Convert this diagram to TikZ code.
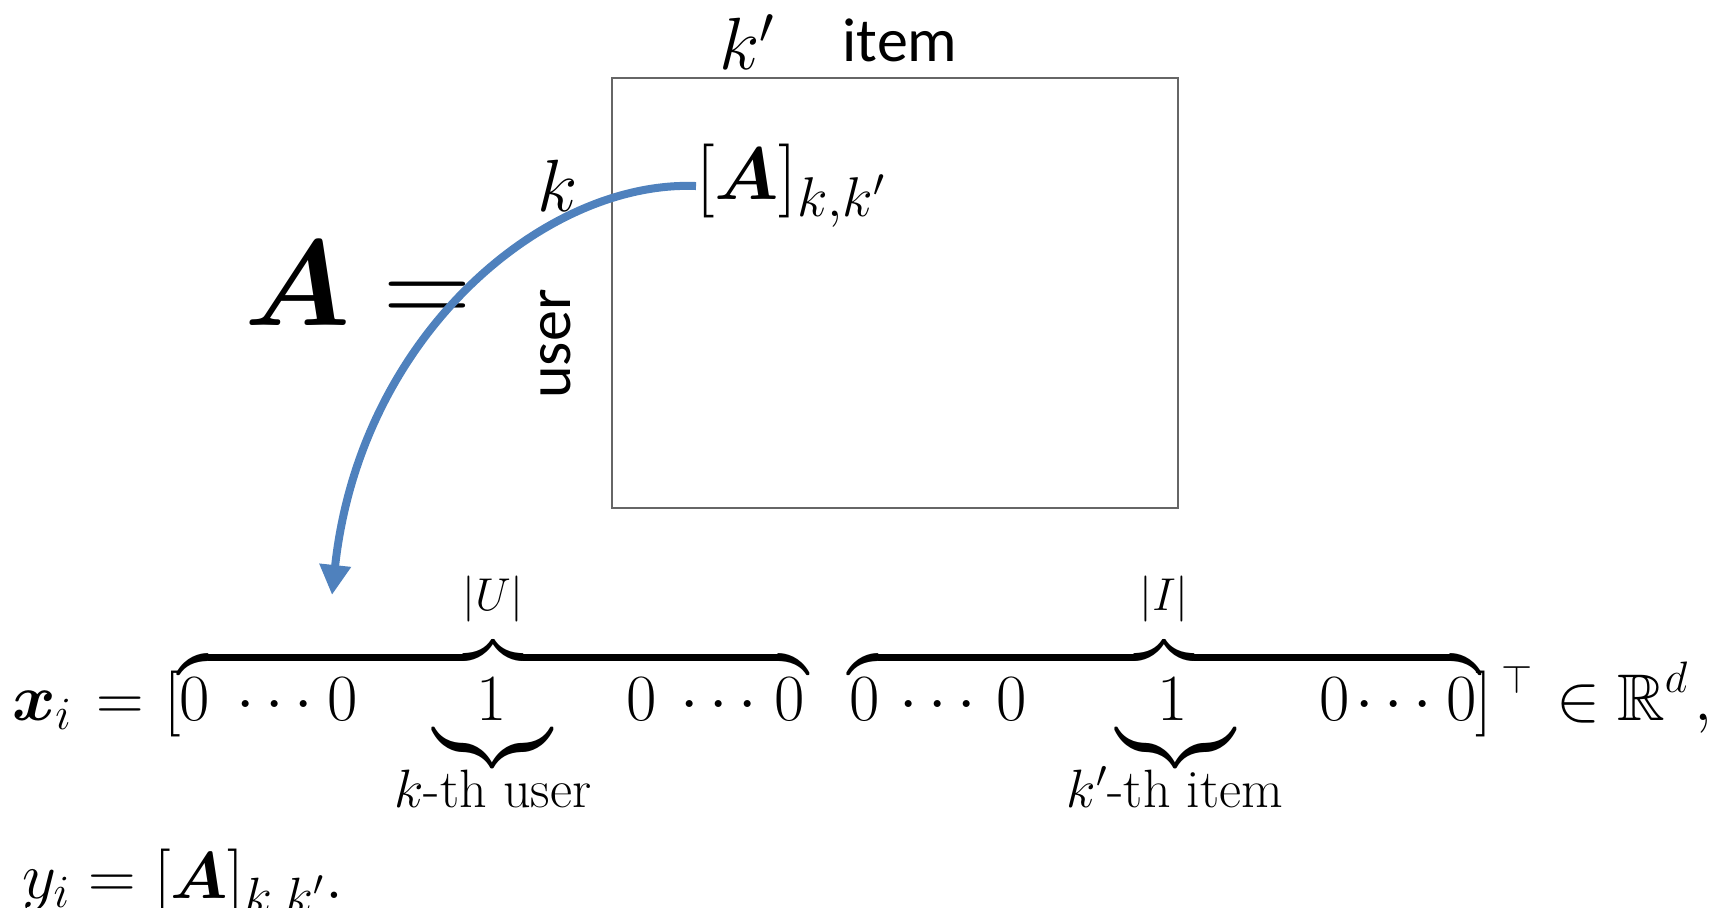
\RequirePackage{fix-cm}
\documentclass[tikz,border=0pt]{standalone}
\usepackage{amsmath,amssymb}
\usepackage{fontspec}
\newfontfamily\calibri{Carlito}
\usetikzlibrary{arrows.meta}
\definecolor{arrowblue}{RGB}{79,129,189}
\tikzset{
  mbase/.style={inner sep=0pt, outer sep=0pt, anchor=base},
  m/.style={mbase, font=\fontsize{33}{40}\selectfont},
  mbig/.style={mbase, font=\fontsize{37}{44}\selectfont},
  mhuge/.style={mbase, font=\fontsize{61}{72}\selectfont},
  ubr/.style={mbase, font=\fontsize{33}{40}\selectfont, yscale=1.15, transform shape},
  sanslabel/.style={mbase, font=\fontsize{31}{36}\selectfont\calibri},
  lbl/.style={mbase, font=\fontsize{27}{32}\selectfont},
  toplbl/.style={mbase, font=\fontsize{23}{28}\selectfont},
  matbox/.style={draw=black!60, line width=0.7pt, inner sep=0pt, minimum width=283pt, minimum height=215pt},
  flow/.style={draw=arrowblue, line width=4pt, -{Triangle[length=15pt,width=15pt]}}
}
\begin{document}
\begin{tikzpicture}[x=0.5pt, y=-0.5pt]
\useasboundingbox (0,0) rectangle (1727,908);

% matrix A
\node[mhuge, anchor=base west] (Aeq) at (244,326) {$\boldsymbol{A} =$};
\node[matbox] (mat) at (895,293) {};
\node[mbig] (kp) at (747,70) {$k'$};
\node[sanslabel] (item) at (900,62) {item};
\node[mbig] (k) at (558,212) {$k$};
\node[sanslabel, rotate=90] (user) at (570,344) {user};
\node[mbig, anchor=base west] (Akk) at (696,200) {$[\boldsymbol{A}]_{\text{\fontsize{28}{32}\selectfont$k{,}k'$}}$};

% x_i line
\node[m, anchor=base west] (xi) at (12,720) {$\boldsymbol{x}_i$};
\node[m] (eq1) at (120,720) {$=$};
\node[m] (lb) at (173,720) {$[$};
\node[m] (a1) at (195,720) {$0$};
\node[m] (a2) at (280,720) {$\cdots$};
\node[m] (a3) at (343,720) {$0$};
\node[m] (u1) at (492,720) {$1$};
\node[m] (a4) at (642,720) {$0$};
\node[m] (a5) at (724,720) {$\cdots$};
\node[m] (a6) at (790,720) {$0$};
\node[m] (b1) at (865,720) {$0$};
\node[m] (b2) at (943,720) {$\cdots$};
\node[m] (b3) at (1012,720) {$0$};
\node[m] (i1) at (1173,720) {$1$};
\node[m] (b4) at (1335,720) {$0$};
\node[m] (b5) at (1399,720) {$\cdots$};
\node[m] (b6) at (1462,720) {$0$};
\node[m] (rb) at (1484,720) {$]$};
\node[mbase, font=\fontsize{20}{24}\selectfont] (tp) at (1517,693) {$\top$};
\node[m] (in) at (1578,720) {$\in$};
\node[m] (R) at (1641,720) {$\mathbb{R}$};
\node[mbase, font=\fontsize{22}{26}\selectfont] (dd) at (1676,692) {$d$};
\node[m] (comma) at (1703,720) {$,$};

% braces
\node[m, anchor=base west] (ob1) at (178,710) {$\displaystyle\overbrace{\hbox to 315pt{$\vphantom{0}$\hfil}}$};
\node[m, anchor=base west] (ob2) at (848,710) {$\displaystyle\overbrace{\hbox to 316pt{$\vphantom{0}$\hfil}}$};
\node[toplbl] (lu) at (493,610) {$|U|$};
\node[toplbl] (li) at (1164,610) {$|I|$};
\node[ubr, anchor=base west] (ub1) at (433,736) {$\displaystyle\underbrace{\hbox to 59.5pt{\hfil}}$};
\node[ubr, anchor=base west] (ub2) at (1116,736) {$\displaystyle\underbrace{\hbox to 59.5pt{\hfil}}$};
\node[lbl] (lku) at (493,807) {$k$-th user};
\node[lbl] (lki) at (1175,807) {$k'$-th item};

% y_i line
\node[m, anchor=base west] (yi) at (22,898) {$y_i = [\boldsymbol{A}]_{\text{\fontsize{25.5}{30}\selectfont$k{,}k'$}}.$};

% arrow
\coordinate (tip) at (332,595);
\draw[flow] (Akk.west) .. controls (545,180) and (360,335) .. (tip);
\end{tikzpicture}
\end{document}
